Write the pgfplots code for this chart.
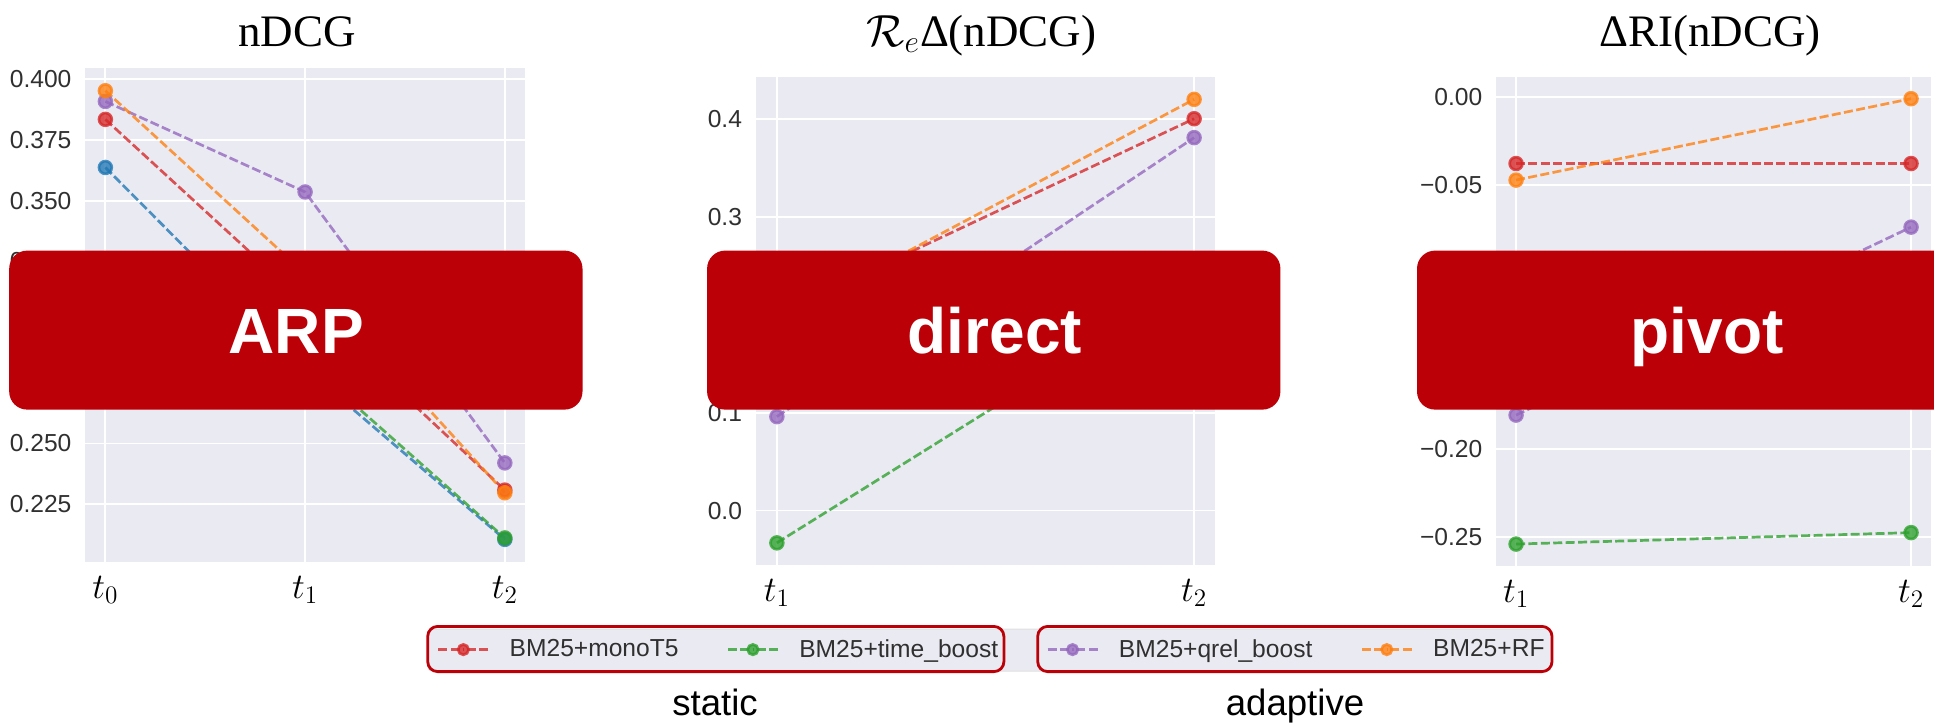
\RequirePackage{fix-cm}
\documentclass[border=0pt]{standalone}
\usepackage[no-math]{fontspec}
\setmainfont{Liberation Sans}
\newfontfamily\serifft{Liberation Serif}
\usepackage{pgfplots}
\pgfplotsset{compat=1.18}
\definecolor{bgc}{HTML}{EAEAF2}
\definecolor{cred}{HTML}{D62728}
\definecolor{cgreen}{HTML}{2CA02C}
\definecolor{cpurple}{HTML}{9467BD}
\definecolor{corange}{HTML}{FF7F0E}
\definecolor{cblue}{HTML}{1F77B4}
\definecolor{boxred}{RGB}{188,0,8}
\definecolor{ticktext}{HTML}{303030}

\pgfplotsset{
  sea/.style={
    scale only axis,
    axis background/.style={fill=bgc},
    axis line style={draw=none},
    major tick length=0pt,
    grid=major,
    major grid style={white, line width=0.9pt},
    yticklabel style={font=\fontsize{12.3}{14}\selectfont, text=ticktext, anchor=east, inner xsep=0pt, xshift=-6.8pt},
    xticklabel style={font=\fontsize{18}{21}\selectfont, text=black, anchor=north, inner ysep=0pt, yshift=-7pt},
    xtick={0,1,2},
  },
  ser/.style={line width=1.35pt, dash pattern=on 4.5pt off 1.7pt, mark=*, mark size=3.2pt, mark options={solid}, opacity=0.78},
}

\begin{document}
\begin{tikzpicture}
\path[use as bounding box] (0pt,0pt) rectangle (967pt,-362.5pt);

% legend background frame
\fill[bgc, draw=black!12, line width=0.5pt, rounded corners=2pt] (214pt,-314.5pt) rectangle (775.5pt,-335.5pt);

% Panel 1: nDCG
\begin{axis}[sea, at={(42.7pt,-280.85pt)}, anchor=south west, width=219.7pt, height=246.65pt,
  xmin=-0.1, xmax=2.1, ymin=0.2013, ymax=0.4045,
  xticklabels={$t_0$,$t_1$,$t_2$},
  ytick={0.225,0.25,0.275,0.3,0.325,0.35,0.375,0.4},
  yticklabels={0.225,0.250,0.275,0.300,0.325,0.350,0.375,0.400}]
\addplot[ser, color=cblue] coordinates {(0,0.3637) (1,0.281) (2,0.2105)};
\addplot[ser, color=cred] coordinates {(0,0.3835) (1,0.308) (2,0.2308)};
\addplot[ser, color=cgreen] coordinates {(1,0.284) (2,0.2111)};
\addplot[ser, color=cpurple] coordinates {(0,0.3909) (1,0.3536) (2,0.2420)};
\addplot[ser, color=corange] coordinates {(0,0.3953) (1,0.320) (2,0.2297)};
\end{axis}

% Panel 2: R_e Delta(nDCG)
\begin{axis}[sea, at={(378pt,-282.5pt)}, anchor=south west, width=229.5pt, height=243.9pt,
  xmin=-0.05, xmax=1.05, ymin=-0.0556, ymax=0.4424,
  xtick={0,1}, xticklabels={$t_1$,$t_2$},
  ytick={0,0.1,0.2,0.3,0.4},
  yticklabels={0.0,0.1,0.2,0.3,0.4},
  legend columns=4,
  legend cell align=left,
  legend image code/.code={
    \draw[#1] (0pt,0pt) -- (12.5pt,0pt);
    \draw[#1] (25pt,0pt) -- (12.5pt,0pt);
    \draw[#1, mark size=2.6pt] plot coordinates {(12.5pt,0pt)};},
  legend style={at={(-0.69499,-0.17343)}, anchor=west, draw=none, fill=none, inner sep=0pt, outer sep=0pt,
    column sep=0pt, font=\fontsize{12.3}{14}\selectfont, text=ticktext, nodes={inner sep=0pt},
    /tikz/every odd column/.append style={column sep=10pt},
    /tikz/every even column/.append style={column sep=24pt}}]
\addplot[ser, color=cred] coordinates {(0,0.200) (1,0.400)};
\addlegendentry{BM25+monoT5}
\addplot[ser, color=cgreen] coordinates {(0,-0.033) (1,0.233)};
\addlegendentry{BM25+time\_boost}
\addplot[ser, color=cpurple] coordinates {(0,0.0959) (1,0.3807)};
\addlegendentry{BM25+qrel\_boost}
\addplot[ser, color=corange] coordinates {(0,0.1936) (1,0.4198)};
\addlegendentry{BM25+RF}
\end{axis}

% Panel 3: Delta RI(nDCG)
\begin{axis}[sea, at={(748.15pt,-282.95pt)}, anchor=south west, width=217.25pt, height=244.35pt,
  xmin=-0.05, xmax=1.05, ymin=-0.2663, ymax=0.0111,
  xtick={0,1}, xticklabels={$t_1$,$t_2$},
  ytick={-0.25,-0.2,-0.15,-0.1,-0.05,0},
  yticklabels={−0.25,−0.20,−0.15,−0.10,−0.05,0.00}]
\addplot[ser, color=cred] coordinates {(0,-0.0379) (1,-0.0379)};
\addplot[ser, color=cgreen] coordinates {(0,-0.2539) (1,-0.2474)};
\addplot[ser, color=cpurple] coordinates {(0,-0.1807) (1,-0.0740)};
\addplot[ser, color=corange] coordinates {(0,-0.0473) (1,-0.0011)};
\end{axis}

% titles
\node[anchor=base, font=\fontsize{22.5}{27}\selectfont\serifft] at (148.5pt,-23.1pt) {nDCG};
\node[anchor=base, font=\fontsize{22.5}{27}\selectfont\serifft] at (490.75pt,-23.1pt) {$\mathcal{R}_e$Δ(nDCG)};
\node[anchor=base, font=\fontsize{22.5}{27}\selectfont\serifft] at (855pt,-23.1pt) {ΔRI(nDCG)};

% overlay boxes
\fill[boxred, rounded corners=9pt] (4.6pt,-125.3pt) rectangle (291.25pt,-204.8pt);
\fill[boxred, rounded corners=9pt] (353.55pt,-125.3pt) rectangle (640.2pt,-204.8pt);
\fill[boxred, rounded corners=9pt] (708.5pt,-125.3pt) rectangle (997pt,-204.8pt);
\node[anchor=base, text=white, font=\fontsize{32}{38}\selectfont\bfseries] at (148.15pt,-176.8pt) {ARP};
\node[anchor=base, text=white, font=\fontsize{32}{38}\selectfont\bfseries] at (497.5pt,-176.8pt) {direct};
\node[anchor=base, text=white, font=\fontsize{32}{38}\selectfont\bfseries] at (853.5pt,-176.8pt) {pivot};

% legend group boxes
\draw[boxred, line width=1.4pt, rounded corners=5pt] (213.85pt,-313.2pt) rectangle (501.95pt,-335.8pt);
\draw[boxred, line width=1.4pt, rounded corners=5pt] (518.85pt,-313.2pt) rectangle (776pt,-335.8pt);

% group labels
\node[anchor=base, font=\fontsize{18.3}{22}\selectfont] at (357.5pt,-357.85pt) {static};
\node[anchor=base, font=\fontsize{18.3}{22}\selectfont] at (647.5pt,-357.85pt) {adaptive};
\end{tikzpicture}
\end{document}
